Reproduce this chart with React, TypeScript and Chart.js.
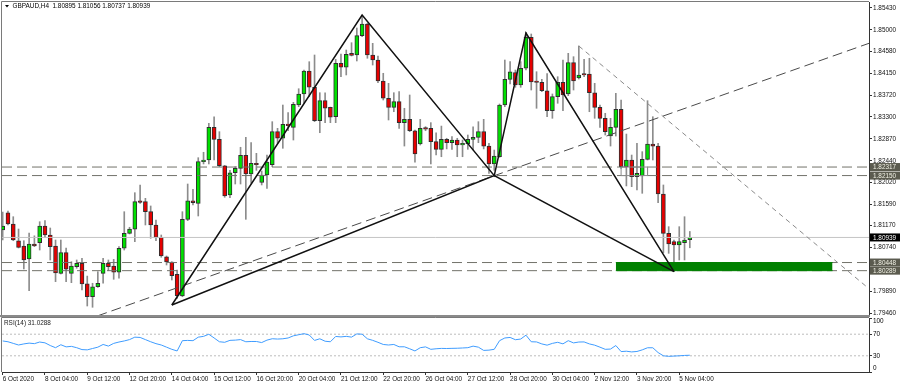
import React, { useEffect, useRef } from 'react';
import { Chart, registerables } from 'chart.js';

Chart.register(...registerables);

// ---- Data (GBPAUD H4, bar 0 = 6 Oct 2020 20:00) ----
const opens = [
  1.81085, 1.81423, 1.81202, 1.80875, 1.80772, 1.80517, 1.80811, 1.80836, 1.81163, 1.80987,
  1.80772, 1.80237, 1.80641, 1.80237, 1.80367, 1.80431, 1.80029, 1.79779, 1.79974, 1.80237,
  1.80431, 1.80380, 1.80257, 1.80727, 1.81020, 1.81099, 1.81658, 1.81639, 1.81443, 1.81183,
  1.80940, 1.80562, 1.80458, 1.80218, 1.79793, 1.81294, 1.81658, 1.81607, 1.82422, 1.82455,
  1.83095, 1.82860, 1.82343, 1.81770, 1.82206, 1.82290, 1.82547, 1.82181, 1.82389, 1.82014,
  1.82161, 1.82363, 1.83009, 1.82880, 1.83154, 1.83095, 1.83531, 1.83747, 1.84197, 1.83878,
  1.83225, 1.83616, 1.83486, 1.83302, 1.84348, 1.84270, 1.84543, 1.84510, 1.84888, 1.85117,
  1.84510, 1.84412, 1.84001, 1.83663, 1.83486, 1.83596, 1.83186, 1.83251, 1.83028, 1.82768,
  1.83087, 1.83075, 1.82813, 1.82664, 1.82860, 1.82794, 1.82846, 1.82748, 1.82768, 1.82860,
  1.82899, 1.83009, 1.82728, 1.82377, 1.82519, 1.83531, 1.84034, 1.84164, 1.83923, 1.84250,
  1.84856, 1.83982, 1.83976, 1.83811, 1.83419, 1.83694, 1.83976, 1.83747, 1.84360, 1.84060,
  1.84138, 1.84138, 1.83772, 1.83486, 1.83271, 1.82924, 1.83095, 1.83447, 1.82324, 1.82455,
  1.82128, 1.82142, 1.82467, 1.82768, 1.82728, 1.81789, 1.81020, 1.80856, 1.80791, 1.80836,
  1.80895,
];
const highs = [
  1.81437, 1.81457, 1.81345, 1.81104, 1.80875, 1.81026, 1.80971, 1.81247, 1.81267, 1.81124,
  1.80889, 1.80889, 1.80733, 1.80464, 1.80498, 1.80531, 1.80183, 1.80042, 1.80269, 1.80531,
  1.80498, 1.80511, 1.80758, 1.81443, 1.81138, 1.81815, 1.81966, 1.81705, 1.81555, 1.81281,
  1.80987, 1.80576, 1.80464, 1.80302, 1.81443, 1.81985, 1.81881, 1.82500, 1.82606, 1.83173,
  1.83302, 1.83009, 1.82350, 1.82253, 1.82324, 1.82704, 1.82899, 1.82794, 1.82586, 1.82240,
  1.82552, 1.83205, 1.83075, 1.83531, 1.83381, 1.83584, 1.83850, 1.84216, 1.84379, 1.84510,
  1.83772, 1.83772, 1.83490, 1.84426, 1.84530, 1.84608, 1.84751, 1.85039, 1.85274, 1.85130,
  1.84739, 1.84491, 1.84152, 1.83956, 1.83772, 1.83792, 1.83467, 1.83727, 1.83040, 1.83251,
  1.83107, 1.83186, 1.82989, 1.83119, 1.82880, 1.82911, 1.82880, 1.82846, 1.82944, 1.83106,
  1.83205, 1.83251, 1.82782, 1.82650, 1.83551, 1.84412, 1.84379, 1.84216, 1.84379, 1.84954,
  1.84921, 1.84183, 1.84034, 1.84144, 1.83747, 1.84085, 1.84412, 1.84543, 1.84477, 1.84686,
  1.84426, 1.84446, 1.83956, 1.83531, 1.83369, 1.83271, 1.83760, 1.83629, 1.82963, 1.82552,
  1.82782, 1.82618, 1.83616, 1.83302, 1.82782, 1.81966, 1.81150, 1.80889, 1.81150, 1.81345,
  1.81056,
];
const lows = [
  1.80889, 1.81183, 1.80875, 1.80733, 1.80322, 1.79897, 1.80758, 1.80693, 1.80940, 1.80498,
  1.80074, 1.80224, 1.80074, 1.80054, 1.80335, 1.79910, 1.79597, 1.79572, 1.79962, 1.80042,
  1.80288, 1.80120, 1.80140, 1.80693, 1.81007, 1.80856, 1.81607, 1.81183, 1.80922, 1.80875,
  1.80551, 1.80400, 1.80106, 1.79748, 1.79779, 1.81267, 1.81574, 1.81359, 1.82377, 1.82377,
  1.82455, 1.82324, 1.81725, 1.81717, 1.81985, 1.81985, 1.81294, 1.81999, 1.82253, 1.81966,
  1.81901, 1.82324, 1.82782, 1.82684, 1.83028, 1.82846, 1.83498, 1.83565, 1.83694, 1.83205,
  1.82989, 1.83186, 1.83186, 1.83186, 1.84085, 1.84119, 1.84491, 1.84393, 1.84868, 1.84446,
  1.84314, 1.83968, 1.83629, 1.83238, 1.83400, 1.83075, 1.82728, 1.83009, 1.82414, 1.82748,
  1.83028, 1.82377, 1.82552, 1.82519, 1.82672, 1.82664, 1.82519, 1.82519, 1.82664, 1.82650,
  1.82794, 1.82672, 1.82194, 1.82253, 1.82508, 1.83498, 1.83942, 1.83878, 1.83878, 1.84216,
  1.83825, 1.83467, 1.83792, 1.83302, 1.83271, 1.83565, 1.83419, 1.83714, 1.83825, 1.84040,
  1.84085, 1.83400, 1.83271, 1.83095, 1.82944, 1.82728, 1.82924, 1.82292, 1.81947, 1.81933,
  1.81868, 1.81803, 1.82455, 1.82455, 1.81619, 1.80641, 1.80628, 1.80269, 1.80498, 1.80498,
  1.80737,
];
const closes = [
  1.81163, 1.81202, 1.80889, 1.80746, 1.80498, 1.80811, 1.80772, 1.81163, 1.80987, 1.80758,
  1.80243, 1.80641, 1.80316, 1.80380, 1.80431, 1.80029, 1.79779, 1.79974, 1.80042, 1.80431,
  1.80367, 1.80257, 1.80727, 1.81020, 1.81104, 1.81639, 1.81627, 1.81443, 1.81183, 1.80940,
  1.80576, 1.80458, 1.80190, 1.79799, 1.81294, 1.81658, 1.81619, 1.82422, 1.82455, 1.83095,
  1.82860, 1.82343, 1.81750, 1.82206, 1.82290, 1.82547, 1.82181, 1.82389, 1.82362, 1.82161,
  1.82414, 1.83009, 1.82880, 1.83154, 1.83127, 1.83545, 1.83747, 1.84197, 1.83878, 1.83225,
  1.83616, 1.83467, 1.83291, 1.84348, 1.84270, 1.84524, 1.84504, 1.84888, 1.85117, 1.84510,
  1.84412, 1.84001, 1.83663, 1.83486, 1.83596, 1.83186, 1.83251, 1.83028, 1.82576, 1.83075,
  1.83056, 1.82813, 1.82664, 1.82860, 1.82794, 1.82846, 1.82748, 1.82782, 1.82860, 1.82899,
  1.83009, 1.82728, 1.82377, 1.82533, 1.83531, 1.84034, 1.84183, 1.83923, 1.84250, 1.84856,
  1.83982, 1.83972, 1.83811, 1.83419, 1.83694, 1.83976, 1.83727, 1.84360, 1.84001, 1.84119,
  1.84119, 1.83772, 1.83486, 1.83271, 1.83009, 1.83095, 1.83447, 1.82324, 1.82455, 1.82128,
  1.82194, 1.82467, 1.82768, 1.82728, 1.81789, 1.81020, 1.80811, 1.80791, 1.80856, 1.80889,
  1.80939,
];
const rsiValues = [
  57.5, 56, 53, 50, 52, 53.5, 52.5, 55.5, 54, 49,
  45, 50.5, 46.5, 47.5, 45, 41.5, 41, 43.5, 46, 51,
  48, 53, 55.5, 57.5, 60, 64.5, 64, 60, 56, 52.5,
  50, 46, 42, 39, 58, 58.5, 58, 64.5, 66, 69.9,
  63, 56, 55, 58.6, 59, 60, 56, 56.5, 56.5, 54.5,
  59, 61.6, 61, 61.5, 63, 67, 69, 71, 68.5, 58.5,
  61.5, 57, 56, 65.8, 65, 66, 64.6, 70.5, 70, 61.5,
  58.6, 55, 51, 50, 51, 46.7, 46.7, 43, 39, 45,
  46.5, 42, 43, 43.7, 43.5, 43.8, 44, 44.5, 45, 47.9,
  46, 40, 40.5, 42, 58, 63, 64, 59.8, 61, 68.2,
  56, 55.7, 52, 49.7, 53, 55, 52.1, 58, 53.9, 55.5,
  55.7, 52, 49.7, 46, 42, 42.5, 49, 37.8, 38.5, 37.2,
  38, 41, 44.9, 44.9, 36, 30, 29, 29.5, 30, 30.7,
  31.03,
];

const timeLabelBars = [0, 8, 16, 24, 32, 40, 48, 56, 64, 72, 80, 88, 96, 104, 112, 120, 128];
const timeLabels = [
  '6 Oct 2020', '8 Oct 04:00', '9 Oct 12:00', '12 Oct 20:00', '14 Oct 04:00', '15 Oct 12:00',
  '16 Oct 20:00', '20 Oct 04:00', '21 Oct 12:00', '22 Oct 20:00', '26 Oct 04:00', '27 Oct 12:00',
  '28 Oct 20:00', '30 Oct 04:00', '2 Nov 12:00', '3 Nov 20:00', '5 Nov 04:00',
];
const priceTicks = [
  1.8543, 1.85, 1.8458, 1.8415, 1.8372, 1.833, 1.8287, 1.8244, 1.8202, 1.8159, 1.8117, 1.8074,
  1.7989, 1.7946,
];
const rsiTicks = [0, 30, 70, 100];
const rsiLevels = [30, 70];
const levelPrices = [1.82317, 1.8215, 1.80448, 1.80289];
const currentPrice = 1.80939;
const patternBars = [32, 68, 93, 99, 127];
const patternPrices = [1.79617, 1.85293, 1.82148, 1.84941, 1.80269];
const trend1Bars = [17.9, 163.9];
const trend1Prices = [1.79402, 1.84739];
const trend2Bars = [109, 163.8];
const trend2Prices = [1.84686, 1.79944];
const zoneBars = [116, 157];
const zonePrices = [1.80448, 1.80289];
const boxBars = [117, 122];
const boxPrices = [1.82317, 1.8215];
const headerText = 'GBPAUD,H4  1.80895 1.81056 1.80737 1.80939';
const rsiTitle = 'RSI(14) 31.0288';

// ---- Layout constants ----
const X_MIN = -0.13;
const X_MAX = 163.9;
const PRICE_MIN = 1.794015;
const PRICE_MAX = 1.855474;
const FAMILY = '"Liberation Sans", Arial, sans-serif';
const FSIZE = 6.4;
const CSS_FONT = `${FSIZE}px ${FAMILY}`;
const AXIS_W = 31;

const lineDs = (pts: any[], color: string, width: number, dash: number[], extra: any = {}) => ({
  type: 'line',
  data: pts,
  borderColor: color,
  borderWidth: width,
  borderDash: dash,
  pointRadius: 0,
  pointHoverRadius: 0,
  fill: false,
  tension: 0,
  order: 1,
  ...extra,
});

const mainDecor = {
  id: 'mainDecor',
  afterDraw(chart: any) {
    const { ctx, chartArea: a, scales } = chart;
    const ys = scales.y;
    ctx.save();
    ctx.strokeStyle = '#7a7a7a';
    ctx.lineWidth = 1;
    ctx.beginPath();
    ctx.moveTo(a.left - 0.5, a.bottom);
    ctx.lineTo(a.left - 0.5, a.top - 0.5);
    ctx.lineTo(a.right, a.top - 0.5);
    ctx.stroke();
    ctx.fillStyle = '#8a8a8a';
    ctx.fillRect(0, a.bottom - 1, a.right + 1, 2);

    ctx.font = CSS_FONT;
    ctx.textBaseline = 'middle';
    ctx.textAlign = 'left';
    levelPrices.forEach((p) => {
      const py = ys.getPixelForValue(p);
      ctx.fillStyle = '#5b5b4f';
      ctx.fillRect(a.right + 1, py - 4, AXIS_W, 8);
      ctx.fillStyle = '#f2f2e6';
      ctx.fillText(p.toFixed(5), a.right + 4, py + 0.5);
    });
    const cy = ys.getPixelForValue(currentPrice);
    ctx.fillStyle = '#000';
    ctx.fillRect(a.right + 1, cy - 4, AXIS_W, 8);
    ctx.fillStyle = '#fff';
    ctx.fillText(currentPrice.toFixed(5), a.right + 4, cy + 0.5);

    // header
    ctx.fillStyle = '#000';
    ctx.beginPath();
    ctx.moveTo(5, 5);
    ctx.lineTo(9, 5);
    ctx.lineTo(7, 7.5);
    ctx.closePath();
    ctx.fill();
    ctx.fillText(headerText, 12.5, 6.5);
    ctx.restore();
  },
};

const rsiDecor = {
  id: 'rsiDecor',
  afterDraw(chart: any) {
    const { ctx, chartArea: a, scales } = chart;
    const ys = scales.y;
    ctx.save();
    ctx.strokeStyle = '#7a7a7a';
    ctx.lineWidth = 1;
    ctx.beginPath();
    ctx.moveTo(a.left - 0.5, a.bottom);
    ctx.lineTo(a.left - 0.5, a.top - 0.5);
    ctx.lineTo(a.right, a.top - 0.5);
    ctx.stroke();
    ctx.font = CSS_FONT;
    ctx.textBaseline = 'middle';
    ctx.textAlign = 'left';
    ctx.fillStyle = '#000';
    rsiTicks.forEach((v) => {
      let py = ys.getPixelForValue(v);
      py = Math.min(Math.max(py, a.top + 3.7), a.bottom - 3.7);
      ctx.fillText(String(v), a.right + 4, py);
    });
    ctx.fillStyle = '#222';
    ctx.fillText(rsiTitle, 4, a.top + 5.5);
    ctx.restore();
  },
};

export default function App() {
  const mainRef = useRef<HTMLCanvasElement>(null);
  const rsiRef = useRef<HTMLCanvasElement>(null);

  useEffect(() => {
    const idx = opens.map((_, i) => i);
    const wickData = idx.map((i) => ({ x: i, y: [lows[i], highs[i]] }));
    const bodyData = idx.map((i) => ({ x: i, y: [opens[i], closes[i]] }));
    const bodyColors = idx.map((i) => (closes[i] >= opens[i] ? '#00e000' : '#e60000'));

    const hLine = (p: number) => [
      { x: X_MIN, y: p },
      { x: X_MAX, y: p },
    ];
    const pattern1 = patternBars.map((b, i) => ({ x: b, y: patternPrices[i] }));
    const pattern2 = [0, 2, 4].map((k) => ({ x: patternBars[k], y: patternPrices[k] }));
    const trend1 = trend1Bars.map((b, i) => ({ x: b, y: trend1Prices[i] }));
    const trend2 = trend2Bars.map((b, i) => ({ x: b, y: trend2Prices[i] }));
    const box = [
      { x: boxBars[0], y: boxPrices[0] },
      { x: boxBars[1], y: boxPrices[0] },
      { x: boxBars[1], y: boxPrices[1] },
      { x: boxBars[0], y: boxPrices[1] },
      { x: boxBars[0], y: boxPrices[0] },
    ];

    const levelDs = levelPrices.map((p) => lineDs(hLine(p), '#72726a', 1, [10, 5], { order: 4 }));

    const main = new Chart(mainRef.current as HTMLCanvasElement, {
      type: 'bar',
      data: {
        datasets: [
          {
            type: 'bar',
            data: wickData,
            backgroundColor: '#8c8c8c',
            borderWidth: 0,
            barThickness: 1,
            grouped: false,
            order: 10,
          },
          {
            type: 'bar',
            data: bodyData,
            backgroundColor: bodyColors,
            borderColor: '#2e2e2e',
            borderWidth: 1,
            borderSkipped: false,
            barThickness: 4,
            minBarLength: 1.5,
            grouped: false,
            order: 9,
          },
          lineDs(
            [{ x: zoneBars[0], y: zonePrices[0] }, { x: zoneBars[1], y: zonePrices[0] }],
            '#008000',
            1,
            [],
            { fill: '+1', backgroundColor: '#008000', order: 2.5 }
          ),
          lineDs([{ x: zoneBars[0], y: zonePrices[1] }, { x: zoneBars[1], y: zonePrices[1] }], '#008000', 1, [], {
            order: 2.5,
          }),
          lineDs(hLine(currentPrice), '#c4c4c4', 1, [], { order: 5 }),
          ...levelDs,
          lineDs(box, '#8c8c8c', 1, [], { order: 3 }),
          lineDs(trend1, '#4a4a4a', 1, [10, 5], { order: 2 }),
          lineDs(trend2, '#8a8a8a', 1, [5, 4], { order: 2 }),
          lineDs(pattern1, '#111111', 1.5, [], { order: 0 }),
          lineDs(pattern2, '#111111', 1.5, [], { order: 0 }),
        ] as any,
      },
      options: {
        responsive: false,
        maintainAspectRatio: false,
        animation: false,
        devicePixelRatio: 1,
        events: [],
        layout: { padding: { left: 2, top: 2, right: 0, bottom: 1 } },
        plugins: { legend: { display: false }, tooltip: { enabled: false } },
        scales: {
          x: { type: 'linear', min: X_MIN, max: X_MAX, display: false, offset: false },
          y: {
            type: 'linear',
            position: 'right',
            min: PRICE_MIN,
            max: PRICE_MAX,
            beginAtZero: false,
            bounds: 'data',
            grid: { drawOnChartArea: false, drawTicks: true, tickLength: 3, color: '#333' },
            border: { display: true, color: '#333', width: 1 },
            ticks: {
              autoSkip: false,
              padding: 1,
              color: '#111',
              font: { family: FAMILY, size: FSIZE },
              callback: (v: any) => Number(v).toFixed(5),
            },
            afterBuildTicks: (s: any) => {
              s.ticks = priceTicks.map((v) => ({ value: v }));
            },
            afterFit: (s: any) => {
              s.width = AXIS_W;
              s.paddingTop = 0;
              s.paddingBottom = 0;
            },
          },
        },
      } as any,
      plugins: [mainDecor],
    });

    const rsi = new Chart(rsiRef.current as HTMLCanvasElement, {
      type: 'line',
      data: {
        datasets: [
          lineDs(rsiValues.map((v, i) => ({ x: i, y: v })), '#3f9cff', 1, [], { order: 0 }),
          ...rsiLevels.map((l) => lineDs([{ x: X_MIN, y: l }, { x: X_MAX, y: l }], '#bdbdbd', 1, [2, 2], { order: 2 })),
        ] as any,
      },
      options: {
        responsive: false,
        maintainAspectRatio: false,
        animation: false,
        devicePixelRatio: 1,
        events: [],
        layout: { padding: { left: 2, top: 1, right: 0, bottom: 0 } },
        plugins: { legend: { display: false }, tooltip: { enabled: false } },
        scales: {
          x: {
            type: 'linear',
            position: 'bottom',
            min: X_MIN,
            max: X_MAX,
            bounds: 'data',
            grid: { drawOnChartArea: false, drawTicks: true, tickLength: 3, color: '#333' },
            border: { display: true, color: '#333', width: 1 },
            ticks: {
              autoSkip: false,
              maxRotation: 0,
              minRotation: 0,
              align: 'start',
              padding: 0,
              color: '#111',
              font: { family: FAMILY, size: FSIZE },
              callback: (_v: any, i: number) => timeLabels[i],
            },
            afterBuildTicks: (s: any) => {
              s.ticks = timeLabelBars.map((v) => ({ value: v }));
            },
            afterFit: (s: any) => {
              s.height = 15;
              s.paddingLeft = 0;
              s.paddingRight = 0;
            },
          },
          y: {
            type: 'linear',
            position: 'right',
            min: 0,
            max: 100,
            bounds: 'data',
            grid: { drawOnChartArea: false, drawTicks: true, tickLength: 3, color: '#333' },
            border: { display: true, color: '#333', width: 1 },
            ticks: { display: false },
            afterBuildTicks: (s: any) => {
              s.ticks = rsiTicks.map((v) => ({ value: v }));
            },
            afterFit: (s: any) => {
              s.width = AXIS_W;
              s.paddingTop = 0;
              s.paddingBottom = 0;
            },
          },
        },
      } as any,
      plugins: [rsiDecor],
    });

    return () => {
      main.destroy();
      rsi.destroy();
    };
  }, []);

  return (
    <div style={{ position: 'fixed', left: 0, top: 0, width: 900, height: 387, background: '#fff' }}>
      <canvas
        ref={mainRef}
        width={900}
        height={317}
        style={{ position: 'absolute', left: 0, top: 0, width: 900, height: 317, display: 'block' }}
      />
      <canvas
        ref={rsiRef}
        width={900}
        height={70}
        style={{ position: 'absolute', left: 0, top: 317, width: 900, height: 70, display: 'block' }}
      />
    </div>
  );
}
